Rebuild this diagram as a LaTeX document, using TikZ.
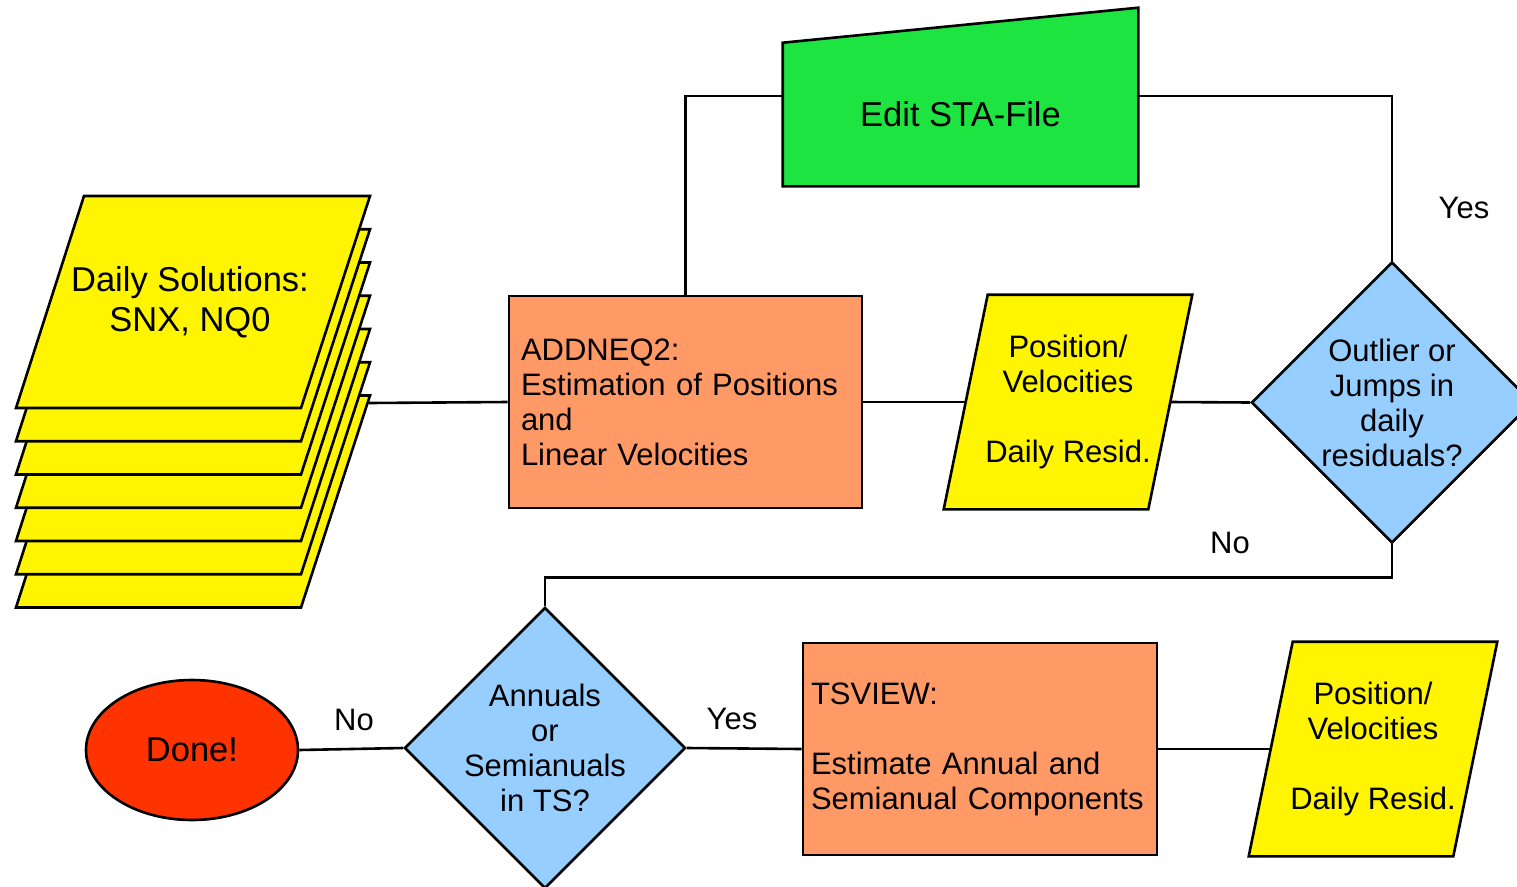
\documentclass[tikz,border=0pt]{standalone}
\usepackage{fontspec}
\setmainfont{Liberation Sans}
\usetikzlibrary{shapes.geometric, backgrounds, calc}

\definecolor{pageyellow}{RGB}{255,245,0}
\definecolor{procorange}{RGB}{255,153,102}
\definecolor{editgreen}{RGB}{30,228,66}
\definecolor{decblue}{RGB}{150,206,255}
\definecolor{donered}{RGB}{255,51,0}

\begin{document}
\begin{tikzpicture}[
  x=1pt, y=-1pt, line width=2.6pt,
  every node/.style={font=\fontsize{31}{35}\selectfont, inner sep=0pt},
  procbox/.style={rectangle, draw, fill=procorange, minimum height=212pt, align=left},
  databox/.style={minimum width=202pt, minimum height=212pt, align=center},
  decision/.style={diamond, draw, fill=decblue, minimum width=281pt, minimum height=281pt,
    inner sep=-6pt, align=center},
  bigtext/.style={font=\fontsize{34.5}{40}\selectfont},
  outline/.style={draw, line width=2.6pt},
]
  \useasboundingbox (0,0) rectangle (1517,886);

  % stack of daily solutions
  \foreach \dy in {199.5,166.25,133,99.75,66.5,33.25,0}
    \filldraw[fill=pageyellow, shift={(0,\dy)}] (84,196) -- (370,196) -- (301,408) -- (16,408) -- cycle;
  \node[bigtext, align=center] (daily) at (190,302) {Daily Solutions:\\SNX, NQ0};
  \coordinate (stack-out) at (369,403);

  % processing steps
  \node[procbox, minimum width=353pt, text width=329pt] (addneq) at (685.5,402)
    {ADDNEQ2:\\Estimation of Positions\\and\\Linear Velocities};
  \node[procbox, minimum width=354pt, text width=338pt] (tsview) at (980,749)
    {TSVIEW:\\[35pt]Estimate Annual and\\Semianual Components};
  \node[bigtext, minimum width=353pt, minimum height=141pt] (edit) at (960.5,114.5) {Edit STA-File};

  % results
  \node[databox] (pos1) at (1068,402) {Position/\\Velocities\\[35pt]Daily Resid.};
  \node[databox] (pos2) at (1373,749) {Position/\\Velocities\\[35pt]Daily Resid.};

  % decisions
  \node[decision] (diam1) at (1392,402.5) {Outlier or\\Jumps in\\daily\\residuals?};
  \node[decision] (diam2) at (545,748) {Annuals\\or\\Semianuals\\in TS?};
  \node[ellipse, draw, fill=donered, bigtext, minimum width=212pt, minimum height=140pt] (done) at (192,750) {Done!};

  \begin{scope}[on background layer]
    \path[outline, fill=editgreen] (edit.south west) -- (edit.north west)
      -- ($(edit.north east)+(0,-35)$) -- (edit.south east) -- cycle;
    \foreach \n in {pos1,pos2}
      \path[outline, fill=pageyellow] ($(\n.south west)+(-22,0)$) -- ($(\n.north west)+(22,0)$)
        -- ($(\n.north east)+(22,0)$) -- ($(\n.south east)+(-22,0)$) -- cycle;
  \end{scope}

  % connectors
  \draw (stack-out) -- (addneq.west);
  \draw (addneq.east) -- (pos1.west);
  \draw (pos1.east) -- (diam1.west);
  \draw (addneq.north) |- ([yshift=18.5pt]edit.west);
  \draw ([yshift=18.5pt]edit.east) -| (diam1.north);
  \draw (diam1.south) -- ++(0,33) -| (diam2.north);
  \draw (diam2.west) -- (done.east);
  \draw (diam2.east) -- (tsview.west);
  \draw (tsview.east) -- (pos2.west);

  % branch labels
  \node (yes1) at (1464,208) {Yes};
  \node (no1) at (1230,543) {No};
  \node (no2) at (354,720) {No};
  \node (yes2) at (732,719) {Yes};
\end{tikzpicture}
\end{document}
